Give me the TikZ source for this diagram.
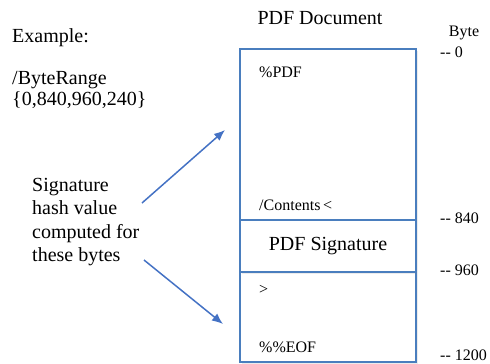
\documentclass[tikz,border=0pt]{standalone}
\usepackage{fontspec}
\setmainfont{Liberation Serif}
\usetikzlibrary{arrows.meta,positioning,shadows}
\definecolor{BoxBlue}{RGB}{74,126,190}
\definecolor{ArrowBlue}{RGB}{68,114,196}

\begin{document}
\begin{tikzpicture}[x=1pt,y=-1pt,
    bigtext/.style={inner sep=0pt, font=\rmfamily\fontsize{20}{23}\selectfont},
    smalltext/.style={inner sep=0pt, font=\rmfamily\fontsize{16}{19}\selectfont},
    part/.style={draw=BoxBlue, fill=white, line width=1.6pt, minimum width=176pt, inner sep=0pt,
                 drop shadow={shadow xshift=1.5pt, shadow yshift=-1.5pt, opacity=0.15}},
    arrow/.style={-{Latex[length=11pt,width=9pt]}, line width=1.5pt, draw=ArrowBlue}
  ]
    \useasboundingbox (0,0) rectangle (490,364);

    % document parts
    \node[part, minimum height=171pt] (head) at (328,134.5) {};
    \node[part, minimum height=90pt] (tail) at (328,317) {};
    \node[part, minimum height=52pt, bigtext] (sig) at (328,246) {PDF Signature};
    \node[bigtext] (title) at (320,18) {PDF Document};

    \node[smalltext, anchor=west] (pdfhead) at (259,72) {\%PDF};
    \node[smalltext, anchor=west] (contents) at (259,205) {/Contents\,<};
    \node[smalltext, anchor=west] (gt) at (259,290) {>};
    \node[smalltext, anchor=west] (eof) at (259,347) {\%\%EOF};

    % byte offsets
    \node[smalltext] (byte) at (464,33) {Byte};
    \node[smalltext, anchor=west] (off0) at (440,52) {-{}- 0};
    \node[smalltext, anchor=west] (off840) at (440,218) {-{}- 840};
    \node[smalltext, anchor=west] (off960) at (440,270) {-{}- 960};
    \node[smalltext, anchor=west] (off1200) at (440,355) {-{}- 1200};

    % left notes
    \node[bigtext, anchor=west] (example) at (12,38) {Example:};
    \node[bigtext, anchor=west, align=left, font=\rmfamily\fontsize{20}{20.5}\selectfont] (range) at (12,90) {/ByteRange\\\{0,840,960,240\}};
    \node[bigtext, anchor=west, align=left, font=\rmfamily\fontsize{20}{23.3}\selectfont] (hashnote) at (32,222) {Signature\\hash value\\computed for\\these bytes};

    \coordinate (upstart) at (142,203);
    \coordinate (uptip) at (225,130);
    \coordinate (downstart) at (144,260);
    \coordinate (downtip) at (223,324);
    \draw[arrow] (upstart) -- (uptip);
    \draw[arrow] (downstart) -- (downtip);
  \end{tikzpicture}
\end{document}
